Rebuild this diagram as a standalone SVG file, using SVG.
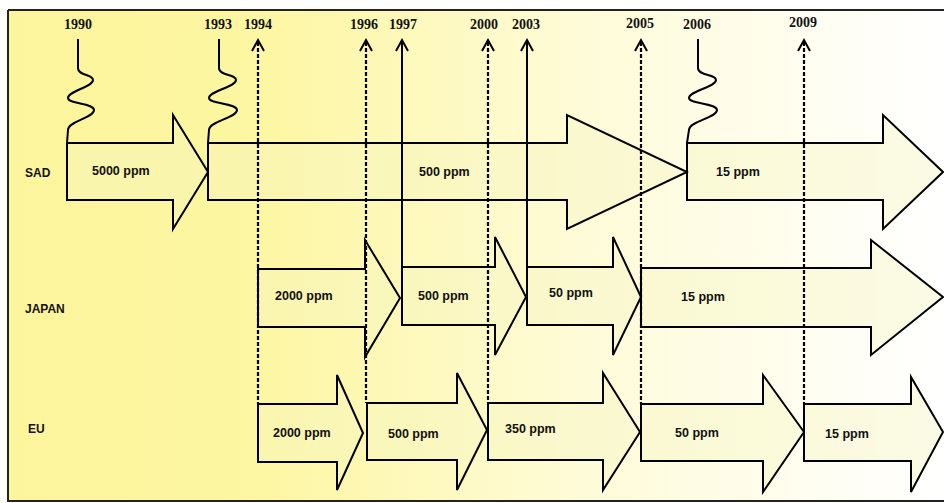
<svg xmlns="http://www.w3.org/2000/svg" width="944" height="503" viewBox="0 0 944 503">
<defs>
<linearGradient id="bg" gradientUnits="userSpaceOnUse" x1="8" y1="0" x2="944" y2="0">
<stop offset="0" stop-color="#fdf59c"/>
<stop offset="0.27" stop-color="#fdf6a2"/>
<stop offset="0.6" stop-color="#fefbd6"/>
<stop offset="1" stop-color="#ffffff"/>
</linearGradient>
<style>
.arr{fill:#f5f5c0;fill-opacity:0.4;stroke:#000;stroke-width:2;stroke-linejoin:miter}
.yr{font-family:"Liberation Serif",serif;font-weight:bold;font-size:14px;text-anchor:middle;fill:#111}
.lb{font-family:"Liberation Sans",Arial,sans-serif;font-weight:bold;font-size:12.5px;fill:#111}
.rw{font-family:"Liberation Sans",Arial,sans-serif;font-weight:bold;font-size:12px;fill:#111}
.wave{fill:none;stroke:#000;stroke-width:2}
.sol{stroke:#000;stroke-width:2;fill:none}
.dash{stroke:#000;stroke-width:2.2;fill:none;stroke-dasharray:4 2}
.hd{stroke:#000;stroke-width:2;fill:none}
</style>
</defs>
<rect x="8" y="10" width="940" height="491" fill="url(#bg)"/>
<path d="M8,10 H944 M8,10 V501 H944" fill="none" stroke="#222" stroke-width="2"/>

<g id="row-labels">
<text class="rw" x="25" y="177">SAD</text>
<text class="rw" x="25" y="313">JAPAN</text>
<text class="rw" x="28" y="433">EU</text>
</g>

<g id="sad-1990">
<polygon class="arr" points="67,143 173,143 173,115 208,172 173,229 173,200 67,200"/>
<text class="lb" x="92" y="175">5000 ppm</text>
</g>
<g id="sad-1993">
<polygon class="arr" points="208,143 567,143 567,115 687,172 567,229 567,200 208,200"/>
<text class="lb" x="419" y="176">500 ppm</text>
</g>
<g id="sad-2006">
<polygon class="arr" points="687,143 883,143 883,115 943,172 883,229 883,200 687,200"/>
<text class="lb" x="716" y="176">15 ppm</text>
</g>

<g id="japan-1994">
<polygon class="arr" points="258,269 365,269 365,240 400,298 365,357 365,327 258,327"/>
<text class="lb" x="275" y="300">2000 ppm</text>
</g>
<g id="japan-1997">
<polygon class="arr" points="402,267 495,267 495,237 526,297 495,355 495,325 402,325"/>
<text class="lb" x="418" y="300">500 ppm</text>
</g>
<g id="japan-2003">
<polygon class="arr" points="527,267 613,267 613,237 641,297 613,355 613,325 527,325"/>
<text class="lb" x="549" y="297">50 ppm</text>
</g>
<g id="japan-2005">
<polygon class="arr" points="641,268 871,268 871,240 943,297 871,355 871,327 641,327"/>
<text class="lb" x="681" y="301">15 ppm</text>
</g>

<g id="eu-1994">
<polygon class="arr" points="258,404 337,404 337,375 363,433 337,490 337,462 258,462"/>
<text class="lb" x="273" y="437">2000 ppm</text>
</g>
<g id="eu-1996">
<polygon class="arr" points="367,403 457,403 457,373 487,430 457,490 457,460 367,460"/>
<text class="lb" x="388" y="438">500 ppm</text>
</g>
<g id="eu-2000">
<polygon class="arr" points="488,403 603,403 603,373 640,432 603,490 603,460 488,460"/>
<text class="lb" x="505" y="433">350 ppm</text>
</g>
<g id="eu-2005">
<polygon class="arr" points="641,404 763,404 763,375 804,432 763,492 763,461 641,461"/>
<text class="lb" x="675" y="437">50 ppm</text>
</g>
<g id="eu-2009">
<polygon class="arr" points="804,404 911,404 911,377 943,432 911,492 911,461 804,461"/>
<text class="lb" x="825" y="438">15 ppm</text>
</g>

<g id="connectors">
<path class="wave" d="M78,39 V68 C78,76 93,74 93,80 C93,87 68,91 68,98 C68,104 94,103 94,110 C94,118 68,121 68,130 L67,143"/>
<path class="wave" d="M219,39 V68 C219,76 236,74 236,80 C236,87 209,91 209,98 C209,104 237,103 237,110 C237,118 209,121 209,130 L208,143"/>
<path class="wave" d="M698,39 V68 C698,76 716,74 716,80 C716,87 689,91 689,98 C689,104 717,103 717,110 C717,118 689,121 689,130 L687,143"/>

<line class="dash" x1="258" y1="42" x2="258" y2="404"/>
<line class="dash" x1="366" y1="42" x2="366" y2="403"/>
<line class="sol" x1="402" y1="41" x2="402" y2="325"/>
<line class="dash" x1="488" y1="42" x2="488" y2="403"/>
<line class="sol" x1="527" y1="41" x2="527" y2="325"/>
<line class="dash" x1="641" y1="42" x2="641" y2="404"/>
<line class="dash" x1="804" y1="42" x2="804" y2="404"/>

<polyline class="hd" points="252,51 258,40 264,51"/>
<polyline class="hd" points="360,51 366,40 372,51"/>
<polyline class="hd" points="396,51 402,40 408,51"/>
<polyline class="hd" points="482,51 488,40 494,51"/>
<polyline class="hd" points="521,51 527,40 533,51"/>
<polyline class="hd" points="635,51 641,40 647,51"/>
<polyline class="hd" points="798,51 804,40 810,51"/>
</g>

<g id="years">
<text class="yr" x="78" y="29">1990</text>
<text class="yr" x="218" y="29">1993</text>
<text class="yr" x="258" y="29">1994</text>
<text class="yr" x="364" y="29">1996</text>
<text class="yr" x="403" y="29">1997</text>
<text class="yr" x="484" y="29">2000</text>
<text class="yr" x="526" y="29">2003</text>
<text class="yr" x="640" y="28">2005</text>
<text class="yr" x="697" y="29">2006</text>
<text class="yr" x="803" y="27">2009</text>
</g>
</svg>
